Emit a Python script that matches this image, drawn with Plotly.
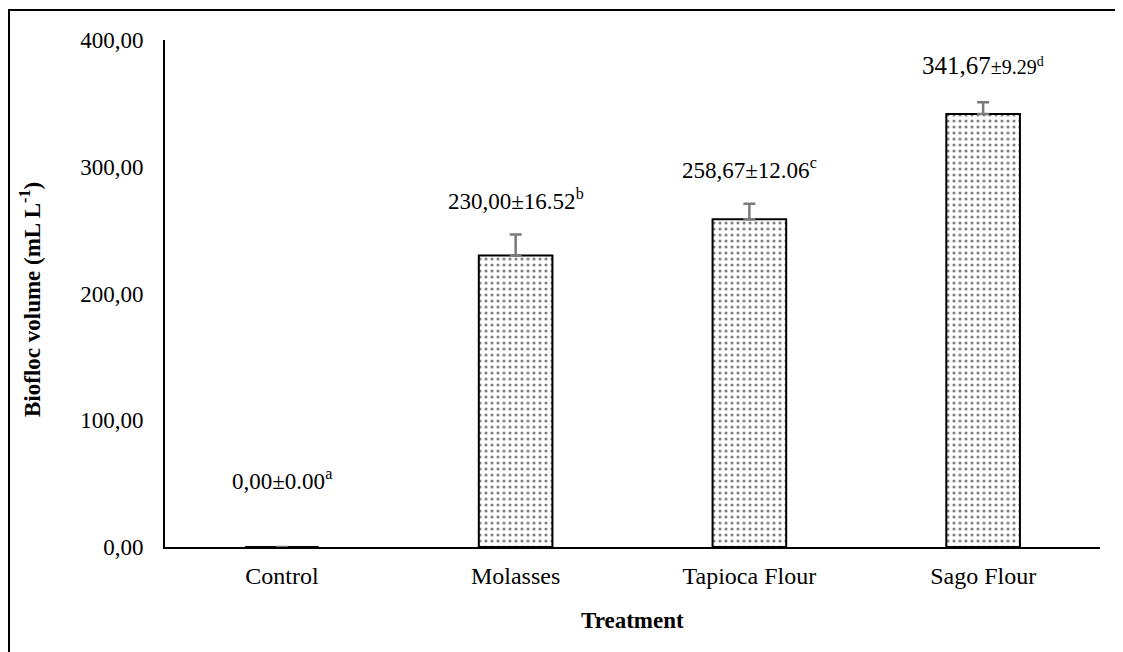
import plotly.graph_objects as go

categories = ["Control", "Molasses", "Tapioca Flour", "Sago Flour"]
means = [0.00, 230.00, 258.67, 341.67]
sds = [0.00, 16.52, 12.06, 9.29]
letters = ["a", "b", "c", "d"]
y_ticks = [0, 100, 200, 300, 400]
y_tick_labels = ["0,00", "100,00", "200,00", "300,00", "400,00"]

FONT = "Liberation Serif, Times New Roman, serif"

# page offset (body margin) ~8px; work in page pixel coordinates
OFF = 8
W, H = 1123 - OFF, 652 - OFF
L, T = 165 - OFF, 40 - OFF
pw, ph = 935, 507
R, B = W - L - pw, H - T - ph


def px_x(x):
    return (x - OFF - L) / pw


def px_y(y):
    return (T + ph - (y - OFF)) / ph


fig = go.Figure()
fig.add_trace(go.Bar(
    x=categories, y=means,
    marker=dict(color="white", line=dict(color="black", width=2),
                pattern=dict(shape=".", fgcolor="black", bgcolor="white", size=6, solidity=0.22)),
    error_y=dict(type="data", array=sds, arrayminus=[0]*len(sds), symmetric=False,
                 color="#7a7a7a", thickness=2.5, width=6),
    width=0.315,
))

# value labels
yshifts = [51, 19, 19, 21]
for i, (c, m, s, l) in enumerate(zip(categories, means, sds, letters)):
    mtxt = f"{m:.2f}".replace(".", ",")
    stxt = f"{s:.2f}"
    if i == 3:
        text = f"<span style='font-size:25px'>{mtxt}</span>±{stxt}<sup>{l}</sup>"
        size = 20
    else:
        text = f"{mtxt}±{stxt}<sup>{l}</sup>"
        size = 23
    fig.add_annotation(x=c, y=m + s, yanchor="bottom", xanchor="center", yshift=yshifts[i], text=text,
                       showarrow=False, font=dict(family=FONT, size=size, color="black"))

# axis titles
fig.add_annotation(xref="paper", yref="paper", x=px_x(30), y=px_y(300),
                   xanchor="center", yanchor="middle",
                   text="<b>Biofloc volume (mL L<sup>-1</sup>)</b>", textangle=-90,
                   showarrow=False, font=dict(family=FONT, size=23, color="black"))
fig.add_annotation(xref="paper", yref="paper", x=0.5, y=px_y(620),
                   xanchor="center", yanchor="middle",
                   text="<b>Treatment</b>", showarrow=False,
                   font=dict(family=FONT, size=23, color="black"))

# outer frame
fig.add_shape(type="rect", xref="paper", yref="paper",
              x0=px_x(9), x1=px_x(1135),
              y0=px_y(665), y1=px_y(10),
              line=dict(color="black", width=2), fillcolor="rgba(0,0,0,0)", layer="below")

fig.update_layout(
    width=W, height=H,
    margin=dict(l=L, r=R, t=T, b=B),
    paper_bgcolor="white", plot_bgcolor="white",
    showlegend=False,
    font=dict(family=FONT, size=24, color="black"),
    bargap=0.685,
)
fig.update_xaxes(showline=True, linecolor="black", linewidth=2, ticks="",
                 showgrid=False, zeroline=False, ticklabelstandoff=6,
                 tickfont=dict(family=FONT, size=24, color="black"))
fig.update_yaxes(range=[0, 400], tickvals=y_ticks, ticktext=y_tick_labels,
                 showline=True, linecolor="black", linewidth=2, ticks="",
                 showgrid=False, zeroline=False, ticklabelstandoff=15,
                 tickfont=dict(family=FONT, size=23, color="black"))

fig.write_html("out.html")
